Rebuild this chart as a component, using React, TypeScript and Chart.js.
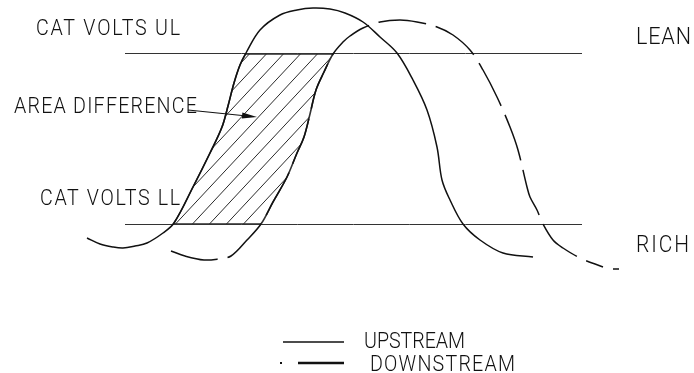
import React, { useEffect, useRef } from "react";
import { Chart, registerables } from "chart.js";

Chart.register(...registerables);

// ---- data (time in ms, sensor voltage in mV) ----
const upstreamTime = [87, 100, 113, 123, 135, 147, 163, 174, 193, 210, 222, 228, 234, 240, 246, 260, 280, 297, 313, 330, 345, 363, 380, 397, 413, 427, 437, 442, 450, 463, 480, 503, 533];
const upstreamMv = [270, 258, 252, 250, 254, 260, 280, 300, 372, 440, 492, 534, 580, 616, 640, 686, 716, 726, 730, 728, 720, 702, 672, 640, 586, 526, 452, 386, 346, 298, 266, 240, 232];

const downstreamTime = [171, 185, 204, 218, 231, 247, 261, 273, 287, 297, 304, 310, 316, 324, 333, 343, 350, 363, 380, 400, 417, 437, 453, 470, 483, 497, 510, 518, 527, 530, 537, 543, 553, 563, 580, 603];
const downstreamMv = [244, 234, 226, 228, 234, 266, 298, 342, 392, 440, 472, 518, 566, 602, 638, 662, 674, 690, 702, 706, 702, 692, 676, 646, 606, 552, 492, 446, 372, 352, 326, 298, 266, 250, 230, 212];

const downstreamTailTime = [613, 619];
const downstreamTailMv = [208, 208];

const limitTime = [125, 582];
const catVoltsUL = 639;
const catVoltsLL = 297;

const seriesLabels = ["UPSTREAM", "DOWNSTREAM"];
const limitLabels = ["CAT VOLTS UL", "CAT VOLTS LL"];
const sideLabels = ["LEAN", "RICH"];
const areaLabel = "AREA DIFFERENCE";
const arrowTime = [188, 257];
const arrowMv = [526, 512];

const W = 694;
const H = 373;
const INK = "#111";
const FONT = 'Roboto, "Liberation Sans", "DejaVu Sans", sans-serif';

const zip = (xs: number[], ys: number[]) => xs.map((x, i) => ({ x, y: ys[i] }));

// draw text with a given cap height, fitted to a given width by letter spacing
function drawSpaced(ctx: CanvasRenderingContext2D, text: string, left: number, baseline: number, width: number, cap: number) {
  const sx = 0.9;
  ctx.save();
  ctx.font = `300 100px ${FONT}`;
  const m = ctx.measureText("H");
  const asc = m.actualBoundingBoxAscent || 71;
  const size = (cap * 100) / asc;
  ctx.translate(left, baseline);
  ctx.scale(sx, 1);
  ctx.font = `300 ${size.toFixed(2)}px ${FONT}`;
  ctx.fillStyle = "#111";
  ctx.textBaseline = "alphabetic";
  ctx.textAlign = "left";
  const anyCtx = ctx as any;
  const hasLS = "letterSpacing" in anyCtx;
  if (hasLS) anyCtx.letterSpacing = "0px";
  const w0 = ctx.measureText(text).width;
  const n = text.length;
  const sp = n > 1 ? (width / sx - w0) / (n - 1) : 0;
  if (hasLS) {
    anyCtx.letterSpacing = `${sp.toFixed(2)}px`;
    ctx.fillText(text, 0, 0);
  } else {
    let x = 0;
    for (const ch of text) {
      ctx.fillText(ch, x, 0);
      x += ctx.measureText(ch).width + sp;
    }
  }
  ctx.restore();
}

const decorPlugin = {
  id: "decor",
  beforeDatasetsDraw(chart: any) {
    const ctx: CanvasRenderingContext2D = chart.ctx;
    const xs = chart.scales.x;
    const ys = chart.scales.y;
    const up = chart.getDatasetMeta(0).data;
    const dn = chart.getDatasetMeta(1).data;
    const a = upstreamMv.indexOf(Math.min(...upstreamMv.slice(0, 8)));
    const b = upstreamMv.indexOf(Math.max(...upstreamMv));
    const c = downstreamMv.indexOf(Math.min(...downstreamMv.slice(0, 8)));
    const d = downstreamMv.indexOf(Math.max(...downstreamMv));
    const yUL = ys.getPixelForValue(catVoltsUL);
    const yLL = ys.getPixelForValue(catVoltsLL);

    ctx.save();
    ctx.beginPath();
    ctx.rect(0, yUL, W, yLL - yUL);
    ctx.clip();
    ctx.beginPath();
    ctx.moveTo(up[a].x, up[a].y);
    for (let i = a + 1; i <= b; i++) {
      ctx.bezierCurveTo(up[i - 1].cp2x, up[i - 1].cp2y, up[i].cp1x, up[i].cp1y, up[i].x, up[i].y);
    }
    ctx.lineTo(dn[d].x, dn[d].y);
    for (let i = d; i > c; i--) {
      ctx.bezierCurveTo(dn[i].cp1x, dn[i].cp1y, dn[i - 1].cp2x, dn[i - 1].cp2y, dn[i - 1].x, dn[i - 1].y);
    }
    ctx.closePath();
    ctx.save();
    ctx.strokeStyle = "#333";
    ctx.lineWidth = 1.6;
    ctx.translate(1.2, 0);
    ctx.stroke();
    ctx.restore();
    ctx.clip();
    ctx.strokeStyle = "#2a2a2a";
    ctx.lineWidth = 1;
    const span = (yLL - yUL) / 1.07;
    for (let x0 = 5 - 340; x0 < W; x0 += 17) {
      ctx.beginPath();
      ctx.moveTo(x0, yLL);
      ctx.lineTo(x0 + span, yUL);
      ctx.stroke();
    }
    ctx.lineWidth = 2.4;
    ctx.beginPath();
    ctx.moveTo(0, yUL);
    ctx.lineTo(W, yUL);
    ctx.moveTo(0, yLL);
    ctx.lineTo(W, yLL);
    ctx.stroke();
    ctx.restore();

    // arrow
    const x1 = xs.getPixelForValue(arrowTime[0]);
    const y1 = ys.getPixelForValue(arrowMv[0]);
    const x2 = xs.getPixelForValue(arrowTime[1]);
    const y2 = ys.getPixelForValue(arrowMv[1]);
    const ang = Math.atan2(y2 - y1, x2 - x1);
    ctx.save();
    ctx.strokeStyle = INK;
    ctx.fillStyle = INK;
    ctx.lineWidth = 1.2;
    ctx.beginPath();
    ctx.moveTo(x1, y1);
    ctx.lineTo(x2 - 10 * Math.cos(ang), y2 - 10 * Math.sin(ang));
    ctx.stroke();
    ctx.beginPath();
    ctx.moveTo(x2, y2);
    ctx.lineTo(x2 - 15 * Math.cos(ang) + 3 * Math.sin(ang), y2 - 15 * Math.sin(ang) - 3 * Math.cos(ang));
    ctx.lineTo(x2 - 15 * Math.cos(ang) - 3 * Math.sin(ang), y2 - 15 * Math.sin(ang) + 3 * Math.cos(ang));
    ctx.closePath();
    ctx.fill();
    ctx.restore();
  },
  afterDatasetsDraw(chart: any) {
    const ctx: CanvasRenderingContext2D = chart.ctx;
    drawSpaced(ctx, limitLabels[0], 36, 35, 144, 15.5);
    drawSpaced(ctx, areaLabel, 14, 113, 183, 15.5);
    drawSpaced(ctx, limitLabels[1], 40, 205, 140, 15.5);
    drawSpaced(ctx, sideLabels[0], 636, 44, 55, 17);
    drawSpaced(ctx, sideLabels[1], 636, 252, 53, 16.5);
    drawSpaced(ctx, seriesLabels[0], 364, 348, 101, 15.5);
    drawSpaced(ctx, seriesLabels[1], 370, 371, 145, 15.5);

    ctx.save();
    ctx.strokeStyle = INK;
    ctx.lineWidth = 1.4;
    ctx.beginPath();
    ctx.moveTo(283, 342);
    ctx.lineTo(344, 342);
    ctx.stroke();
    ctx.lineWidth = 2.6;
    ctx.beginPath();
    ctx.moveTo(298, 363);
    ctx.lineTo(344, 363);
    ctx.stroke();
    ctx.fillStyle = INK;
    ctx.fillRect(280, 362, 2, 2);
    ctx.restore();
  },
};

export default function App() {
  const ref = useRef<HTMLCanvasElement | null>(null);
  useEffect(() => {
    if (!ref.current) return;
    const line = (label: string, data: any[], extra: any = {}) => ({
      label,
      data,
      borderColor: INK,
      borderWidth: 1.5,
      pointRadius: 0,
      fill: false,
      tension: 0.35,
      ...extra,
    });
    const chart = new Chart(ref.current, {
      type: "line",
      data: {
        datasets: [
          line(seriesLabels[0], zip(upstreamTime, upstreamMv)),
          line(seriesLabels[1], zip(downstreamTime, downstreamMv), { borderDash: [48, 10] }),
          line(seriesLabels[1] + " tail", zip(downstreamTailTime, downstreamTailMv)),
          line(limitLabels[0], zip(limitTime, [catVoltsUL, catVoltsUL]), { borderWidth: 1, borderColor: "#333" }),
          line(limitLabels[1], zip(limitTime, [catVoltsLL, catVoltsLL]), { borderWidth: 1, borderColor: "#333" }),
        ],
      } as any,
      options: {
        animation: false,
        responsive: false,
        devicePixelRatio: 1,
        layout: { padding: 0 },
        plugins: { legend: { display: false }, tooltip: { enabled: false } },
        events: [],
        scales: {
          x: { type: "linear", min: 0, max: W, display: false },
          y: { type: "linear", min: 0, max: 2 * H, display: false },
        },
      } as any,
      plugins: [decorPlugin],
    });
    return () => chart.destroy();
  }, []);
  return (
    <div style={{ position: "fixed", left: 0, top: 0, width: W, height: H, background: "#fff" }}>
      <canvas ref={ref} width={W} height={H} style={{ width: W, height: H, display: "block" }} />
    </div>
  );
}
